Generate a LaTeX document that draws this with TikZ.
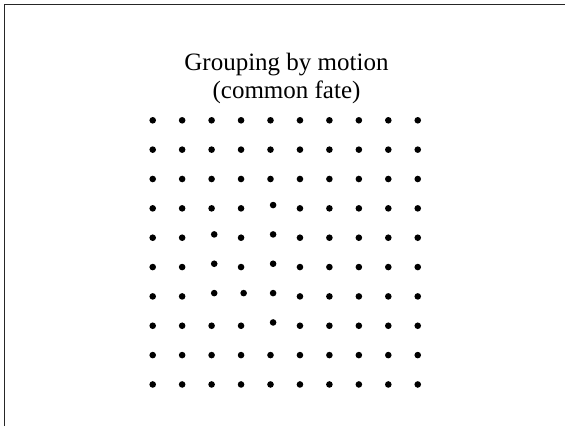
\documentclass[tikz,border=0pt]{standalone}
\usepackage{fontspec}
\setmainfont{Liberation Serif}
\usetikzlibrary{positioning}

\begin{document}
\begin{tikzpicture}[
    x=1pt, y=-1pt,
    dot/.style={circle,fill=black,inner sep=0pt,minimum size=6.6pt},
    title/.style={align=center,font=\fontsize{25}{28.3}\selectfont,inner sep=0pt},
    frame/.style={draw=black!85,line width=1pt}
  ]
    \useasboundingbox (0,0) rectangle (565,426);
    \draw[frame] (4,426) -- (4,4) -- (565,4);
    \node[title] (t) at (286.5,78.5) {Grouping by motion\\(common fate)};
    % dots that move together
    \foreach \c/\r in {4/3,2/4,4/4,2/5,4/5,2/6,3/6,4/6,4/7}
      \expandafter\gdef\csname mv\c-\r\endcsname{};
    \foreach \r in {0,...,9}
      \foreach \c in {0,...,9}{
        \ifcsname mv\c-\r\endcsname
          \node[dot] (d\c\r) at (155.3+29.45*\c,117+29.35*\r) {};
        \else
          \node[dot] (d\c\r) at (152.7+29.45*\c,120.3+29.35*\r) {};
        \fi
      }
\end{tikzpicture}
\end{document}
